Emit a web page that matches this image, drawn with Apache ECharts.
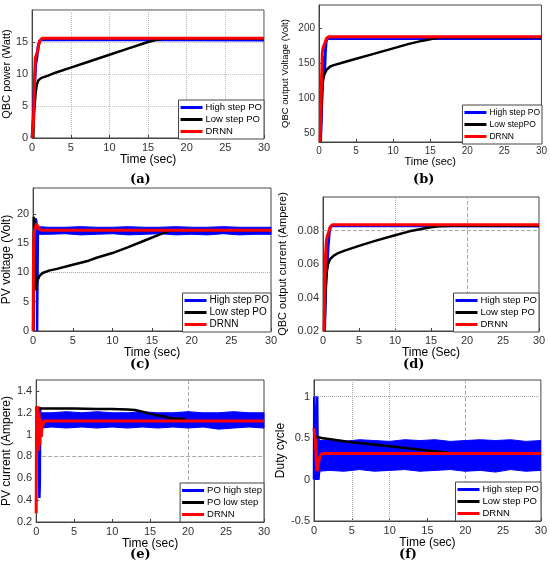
<!DOCTYPE html>
<html>
<head>
<meta charset="utf-8">
<script src="https://cdn.jsdelivr.net/npm/echarts@6/dist/echarts.min.js"></script>
<style>html,body{margin:0;padding:0;background:#fff}#main{width:550px;height:568px}</style>
</head>
<body>
<div id="main"></div>
<script>
// (a) QBC power (Watt)
const powerHigh = [[0,0],[0.15,3],[0.3,8],[0.45,11.5],[0.6,12.5],[0.8,14.5],[1.0,15.2],[1.3,15.4],[30,15.3]];
const powerLow = [[0.15,0],[0.25,4],[0.35,5.5],[0.45,7],[0.6,8.3],[0.8,9],[1.2,9.4],[2,9.7],[3,10.2],[5,11],[7,11.8],[10,13],[12,13.8],[14,14.6],[15,15],[16,15.3],[17,15.5],[30,15.5]];
const powerDrnn = [[0,0],[0.15,2],[0.3,8],[0.4,12.5],[0.55,13],[0.7,13.5],[0.85,14.5],[1.0,15.2],[1.3,15.6],[30,15.6]];

// (b) QBC output voltage (Volt)
const voltHigh = [[0.2,37],[0.3,70],[0.45,120],[0.55,160],[0.65,140],[0.75,136],[0.85,165],[0.95,180],[1.1,185],[1.5,185.5],[30,185]];
const voltLow = [[0.2,37],[0.3,75],[0.4,105],[0.5,122],[0.7,133],[1,140],[1.5,145],[2,147],[3,150],[5,156],[7,162],[10,171],[12,177],[14,182],[15,184],[16,186],[17,187],[30,187]];
const voltDrnn = [[0.15,37],[0.25,80],[0.35,130],[0.45,165],[0.55,172],[0.75,172],[0.85,180],[1.0,185],[1.3,187.5],[30,187.5]];

// (c) PV voltage (Volt)
const pvvHigh = [[0,0],[0.1,16],[0.2,18.5],[0.3,19.2],[0.4,18.8],[0.48,17],[0.5,0],[0.55,0],[0.6,17],[0.7,17.2]];
const pvvBandT = [0.7,2,4,6,8,10,12,14,16,18,20,22,24,26,28,30];
const pvvBandLo = [16.5,16.5,16.6,16.4,16.5,16.6,16.4,16.5,16.6,16.4,16.5,16.4,16.6,16.4,16.5,16.5];
const pvvBandHi = [17.8,17.7,17.7,17.8,17.7,17.7,17.8,17.7,17.7,17.8,17.7,17.7,17.8,17.7,17.7,17.7];
const pvvLow = [[0.05,0],[0.08,19.5],[0.15,17],[0.3,7],[0.5,8.5],[0.8,9.4],[1.2,9.9],[2,10.3],[3,10.6],[5,11.3],[7,12],[8,12.5],[10,13.3],[12,14.3],[14,15.4],[16,16.5],[17,17],[18,17.2],[30,17.2]];
const pvvDrnn = [[0,0],[0.05,14],[0.12,16.8],[0.25,17.5],[0.4,18.3],[0.5,18.6],[0.6,18],[0.8,17.3],[1.2,17.2],[30,17.2]];

// (d) QBC output current (Ampere)
const curHigh = [[0.2,0.02],[0.3,0.035],[0.4,0.05],[0.5,0.057],[0.6,0.062],[0.7,0.07],[0.85,0.078],[1.0,0.082],[1.3,0.083],[30,0.0827]];
const curLow = [[0.2,0.02],[0.3,0.035],[0.4,0.048],[0.55,0.056],[0.7,0.06],[1,0.063],[1.5,0.065],[2,0.0663],[3,0.068],[5,0.0708],[7,0.0735],[10,0.0772],[12,0.0795],[14,0.0812],[15,0.082],[16,0.0825],[18,0.0828],[30,0.0828]];
const curDrnn = [[0.15,0.02],[0.25,0.045],[0.35,0.065],[0.45,0.073],[0.55,0.076],[0.75,0.076],[0.85,0.08],[1.0,0.082],[1.3,0.0835],[30,0.0835]];

// (e) PV current (Ampere)
const pviHigh = [[0,1.2],[0.1,1.25],[0.25,1.2],[0.35,1.0],[0.42,0.42],[0.48,0.55],[0.52,1.25],[0.6,1.1],[0.7,1.15]];
const pviBandT = [0.7,2,4,6,8,10,12,14,16,18,20,22,24,26,28,30];
const pviBandLo = [1.06,1.07,1.06,1.07,1.06,1.07,1.06,1.07,1.06,1.07,1.06,1.07,1.05,1.06,1.07,1.06];
const pviBandHi = [1.2,1.2,1.21,1.2,1.21,1.2,1.2,1.21,1.2,1.2,1.21,1.2,1.2,1.21,1.2,1.2];
const pviLow = [[0.1,1.22],[0.2,1.25],[0.5,1.24],[1,1.24],[5,1.24],[8,1.235],[10,1.235],[12,1.23],[13,1.225],[14,1.21],[15,1.19],[16,1.175],[17,1.165],[17.5,1.15],[18.5,1.145],[19.6,1.145]];
const pviDrnn = [[0,0.28],[0.05,1.26],[0.12,0.95],[0.2,1.26],[0.28,0.85],[0.38,1.2],[0.48,0.9],[0.58,1.15],[0.68,0.98],[0.8,1.12],[0.9,1.08],[1.0,1.125],[30,1.125]];

// (f) Duty cycle
const dutyHigh = [[0,0],[0.03,1],[0.15,1],[0.18,0],[0.4,0],[0.42,1],[0.5,1],[0.52,0],[0.7,0.1]];
const dutyBandT = [0.15,0.68,0.7,2,4,6,8,10,12,14,16,18,20,22,24,26,28,30];
const dutyBandLo = [0,0,0.1,0.11,0.1,0.12,0.1,0.11,0.12,0.1,0.11,0.12,0.1,0.11,0.09,0.12,0.1,0.11];
const dutyBandHi = [0.5,0.5,0.47,0.48,0.46,0.48,0.47,0.46,0.48,0.47,0.48,0.46,0.47,0.48,0.47,0.48,0.46,0.47];
const dutyLow = [[0.2,0.52],[0.4,0.5],[1,0.5],[5,0.45],[10,0.4],[15,0.35],[18,0.32],[20,0.315],[30,0.315]];
const dutyDrnn = [[0,0.62],[0.1,0.62],[0.2,0.45],[0.3,0.22],[0.4,0.1],[0.5,0.12],[0.6,0.2],[0.75,0.27],[0.9,0.3],[1.2,0.315],[30,0.315]];

const BLUE = '#0000ff', BLACK = '#000000', RED = '#ff0000';
const FONT = 'Liberation Sans';

const grids = [
    {left: 32, top: 10, width: 232, height: 128},
    {left: 319, top: 5, width: 224, height: 137},
    {left: 29, top: 188, width: 242, height: 143},
    {left: 323, top: 197, width: 216, height: 134},
    {left: 31, top: 380, width: 233, height: 142},
    {left: 314, top: 380, width: 227, height: 141},
].map(g => Object.assign(g, {show: true, borderColor: '#444', borderWidth: 1, backgroundColor: '#fff'}));

function xAx(gi, xName, nameGap, fs, o) {
    return Object.assign({
        type: 'value', gridIndex: gi, min: 0, max: 30, interval: 5,
        name: xName, nameLocation: 'middle', nameGap: nameGap,
        nameTextStyle: {fontFamily: FONT, fontSize: fs + 1, color: '#000'},
        axisLine: {onZero: false, lineStyle: {color: '#444'}},
        axisTick: {inside: true, length: 3, lineStyle: {color: '#444'}},
        axisLabel: {fontFamily: FONT, fontSize: fs, color: '#333', margin: 4},
        splitLine: {show: false}
    }, o || {});
}

function yAx(gi, yName, nameGap, nfs, o) {
    return Object.assign({
        type: 'value', gridIndex: gi,
        name: yName, nameLocation: 'middle', nameGap: nameGap,
        nameTextStyle: {fontFamily: FONT, fontSize: nfs, color: '#000'},
        axisLine: {onZero: false, lineStyle: {color: '#444'}},
        axisTick: {inside: true, length: 3, lineStyle: {color: '#444'}},
        axisLabel: {fontFamily: FONT, fontSize: 11, color: '#333', margin: 4, showMaxLabel: false},
        splitLine: {show: false}
    }, o);
}

function line(name, data, color, width, gi, extra) {
    return Object.assign({
        type: 'line', name: name, data: data, xAxisIndex: gi, yAxisIndex: gi,
        symbol: 'none', showSymbol: false, animation: false,
        lineStyle: {color: color, width: width}, itemStyle: {color: color}
    }, extra || {});
}

// noisy blue envelope: polygon between the low and high edges, placed through the axes
function band(t, lo, hi, gi) {
    return {
        type: 'custom', name: 'band-' + gi, xAxisIndex: gi, yAxisIndex: gi,
        data: [[t[0], lo[0]]], animation: false, silent: true, clip: true,
        renderItem: function (params, api) {
            const top = t.map((x, i) => api.coord([x, hi[i]]));
            const bot = t.map((x, i) => api.coord([x, lo[i]])).reverse();
            return {type: 'polygon', shape: {points: top.concat(bot)},
                style: {fill: BLUE, stroke: BLUE, lineWidth: 1}};
        }
    };
}

function guides(gi, lines) {
    return line('guide-' + gi, [], '#888', 0, gi, {
        markLine: {
            silent: true, symbol: 'none', z: 1, animation: false,
            label: {show: false},
            lineStyle: {color: '#aaa', width: 1, type: 'dashed'},
            data: lines
        }
    });
}

function legendAt(right, top, names, fs) {
    return {
        right: right, top: top, orient: 'vertical', selectedMode: false,
        data: names.map(n => ({name: n, icon: 'rect'})),
        itemWidth: 22, itemHeight: 3, itemGap: 1,
        padding: [2, 2, 2, 2],
        borderColor: '#444', borderWidth: 1, backgroundColor: '#fff',
        textStyle: {fontFamily: FONT, fontSize: fs, color: '#000', lineHeight: 11, padding: [0, 0, 0, -2]}
    };
}

const legNames = ['High step PO', 'Low step PO', 'DRNN'];

const option = {
    backgroundColor: '#fff',
    animation: false,
    grid: grids,
    title: [
        {text: '(a)', left: 130, top: 173},
        {text: '(b)', left: 413, top: 173},
        {text: '(c)', left: 130, top: 358},
        {text: '(d)', left: 403, top: 358},
        {text: '(e)', left: 130, top: 548},
        {text: '(f)', left: 399, top: 548},
    ].map(t => Object.assign(t, {padding: 0, textStyle: {fontFamily: 'DejaVu Serif', fontSize: 13, fontWeight: 'bold', color: '#000'}})),
    legend: [
        legendAt(550 - 264, 100, legNames, 9.5),
        legendAt(550 - 542, 105, ['High step PO', 'Low stepPO', 'DRNN'], 8.5),
        legendAt(550 - 271, 293, legNames, 10),
        legendAt(550 - 539, 293, legNames, 9.5),
        legendAt(550 - 264, 483, ['PO high step', 'PO low step', 'DRNN'], 9.5),
        legendAt(550 - 541, 482, legNames, 9.5),
    ],
    xAxis: [
        xAx(0, 'Time (sec)', 16, 11, {splitLine: {show: true, lineStyle: {color: '#bbb', type: 'dotted'}}}),
        xAx(1, 'Time (sec)', 10, 10),
        xAx(2, 'Time (sec)', 10, 11),
        xAx(3, 'Time (Sec)', 10, 11),
        xAx(4, 'Time (sec)', 10, 11),
        xAx(5, 'Time (sec)', 10, 11),
    ],
    yAxis: [
        yAx(0, 'QBC power (Watt)', 14, 11, {min: 0, max: 20, interval: 5,
            splitLine: {show: true, lineStyle: {color: '#bbb', type: 'dotted'}}}),
        yAx(1, 'QBC output Voltage (Volt)', 29, 9.5, {min: 37, max: 233,
            axisLabel: {fontFamily: FONT, fontSize: 10, color: '#333', margin: 4, customValues: [50, 100, 150, 200]},
            axisTick: {inside: true, length: 3, lineStyle: {color: '#444'}, customValues: [50, 100, 150, 200]}}),
        yAx(2, 'PV voltage (Volt)', 11, 12, {min: 0, max: 24.4, interval: 5}),
        yAx(3, 'QBC output current (Ampere)', 35, 11, {min: 0.02, max: 0.1, interval: 0.02}),
        yAx(4, 'PV current (Ampere)', 17, 12, {min: 0.2, max: 1.5, interval: 0.2}),
        yAx(5, 'Duty cycle', 20, 12, {min: -0.5, max: 1.2, interval: 0.5}),
    ],
    series: [
        // (a)
        line('High step PO', powerHigh, BLUE, 3, 0),
        line('Low step PO', powerLow, BLACK, 2.5, 0),
        line('DRNN', powerDrnn, RED, 3, 0),
        // (b)
        line('High step PO', voltHigh, BLUE, 3, 1),
        line('Low stepPO', voltLow, BLACK, 2.5, 1),
        line('DRNN', voltDrnn, RED, 3, 1),
        // (c)
        guides(2, [{yAxis: 10, lineStyle: {type: 'dotted'}}]),
        line('High step PO', pvvHigh, BLUE, 2.5, 2),
        band(pvvBandT, pvvBandLo, pvvBandHi, 2),
        line('Low step PO', pvvLow, BLACK, 2.5, 2),
        line('DRNN', pvvDrnn, RED, 3, 2),
        // (d)
        guides(3, [{yAxis: 0.08}, {xAxis: 10, lineStyle: {type: 'dotted'}}, {xAxis: 20}]),
        line('High step PO', curHigh, BLUE, 3, 3),
        line('Low step PO', curLow, BLACK, 2.5, 3),
        line('DRNN', curDrnn, RED, 3, 3),
        // (e)
        guides(4, [{yAxis: 0.8}, {xAxis: 20}]),
        line('PO high step', pviHigh, BLUE, 2.5, 4),
        band(pviBandT, pviBandLo, pviBandHi, 4),
        line('PO low step', pviLow, BLACK, 2.5, 4),
        line('DRNN', pviDrnn, RED, 3, 4),
        // (f)
        guides(5, [{yAxis: 1, lineStyle: {type: 'dotted'}}, {xAxis: 5, lineStyle: {type: 'dotted'}}, {xAxis: 10, lineStyle: {type: 'dotted'}}, {xAxis: 20}]),
        line('High step PO', dutyHigh, BLUE, 2.5, 5),
        band(dutyBandT, dutyBandLo, dutyBandHi, 5),
        line('Low step PO', dutyLow, BLACK, 2.5, 5),
        line('DRNN', dutyDrnn, RED, 3, 5),
    ]
};

const chart = echarts.init(document.getElementById('main'), null, {renderer: 'canvas'});
chart.setOption(option);
</script>
</body>
</html>
